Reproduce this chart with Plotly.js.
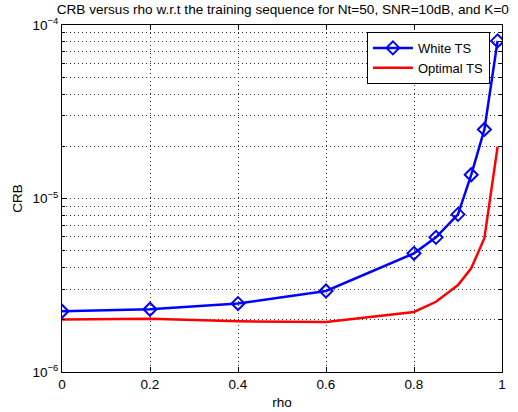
<!DOCTYPE html>
<html>
<head>
<meta charset="utf-8">
<script src="https://cdn.plot.ly/plotly-3.0.1.min.js"></script>
<style>html,body{margin:0;padding:0;background:#fff;}#chart{width:518px;height:412px;}</style>
</head>
<body>
<div id="chart"></div>
<script>
const rho = [0, 0.2, 0.4, 0.6, 0.8, 0.85, 0.9, 0.93, 0.96, 0.99];
const whiteTS = [2.24e-6, 2.30e-6, 2.48e-6, 2.93e-6, 4.83e-6, 5.97e-6, 8.1e-6, 1.37e-5, 2.5e-5, 8.1e-5];
const optimalTS = [2.01e-6, 2.03e-6, 1.96e-6, 1.94e-6, 2.22e-6, 2.54e-6, 3.17e-6, 3.96e-6, 5.9e-6, 1.99e-5];
const xTicks = [0, 0.2, 0.4, 0.6, 0.8, 1];
const xTickText = ['0', '0.2', '0.4', '0.6', '0.8', '1'];
const yTicks = [1e-6, 1e-5, 1e-4];
const yTickText = ['10<sup>−6</sup>', '10<sup>−5</sup>', '10<sup>−4</sup>'];
const yMinor = [];
[1e-6, 1e-5].forEach(d => { for (let k = 2; k <= 9; k++) yMinor.push(k * d); });

const traces = [
  {x: rho, y: whiteTS, name: 'White TS', type: 'scatter', mode: 'lines+markers',
   line: {color: '#0000ff', width: 2.5},
   marker: {symbol: 'diamond-open', size: 10, color: '#0000ff', line: {width: 2, color: '#0000ff'}}},
  {x: rho, y: optimalTS, name: 'Optimal TS', type: 'scatter', mode: 'lines',
   line: {color: '#ff0000', width: 2.5}}
];

const dots = '1px,3px';
const layout = {
  width: 518, height: 412,
  margin: {l: 62, r: 16, t: 25, b: 40},
  paper_bgcolor: '#fff', plot_bgcolor: '#fff',
  font: {family: 'Arial, "Liberation Sans", sans-serif', size: 13, color: '#000'},
  title: {text: 'CRB versus rho w.r.t the training sequence for Nt=50, SNR=10dB, and K=0',
          font: {size: 13.6, color: '#000'}, x: 0.546, xanchor: 'center', y: 0.99, yanchor: 'top'},
  showlegend: true,
  legend: {x: 0.693, y: 0.98, xanchor: 'left', yanchor: 'top', bgcolor: '#fff',
           bordercolor: '#000', borderwidth: 1, font: {size: 13},
           tracegroupgap: 0, itemwidth: 40},
  xaxis: {range: [0, 1], tickmode: 'array', tickvals: xTicks, ticktext: xTickText,
          showgrid: true, gridcolor: '#333', griddash: dots, gridwidth: 1,
          zeroline: false, showline: true, linecolor: '#000', linewidth: 1, mirror: 'ticks',
          ticks: 'inside', ticklen: 5, tickcolor: '#000', tickfont: {size: 13.5},
          title: {text: 'rho', font: {size: 13.5}, standoff: 6}},
  yaxis: {type: 'log', range: [-6, -4], tickmode: 'array', tickvals: yTicks, ticktext: yTickText,
          showgrid: true, gridcolor: '#333', griddash: dots, gridwidth: 1,
          zeroline: false, showline: true, linecolor: '#000', linewidth: 1, mirror: 'ticks',
          ticks: 'inside', ticklen: 5, tickcolor: '#000', tickfont: {size: 13.5},
          minor: {tickmode: 'array', tickvals: yMinor, showgrid: true, gridcolor: '#333',
                  griddash: dots, gridwidth: 1, ticks: 'inside', ticklen: 3, tickcolor: '#000'},
          title: {text: 'CRB', font: {size: 13.5}, standoff: 6}}
};

Plotly.newPlot('chart', traces, layout, {displayModeBar: false, staticPlot: true});
</script>
</body>
</html>
